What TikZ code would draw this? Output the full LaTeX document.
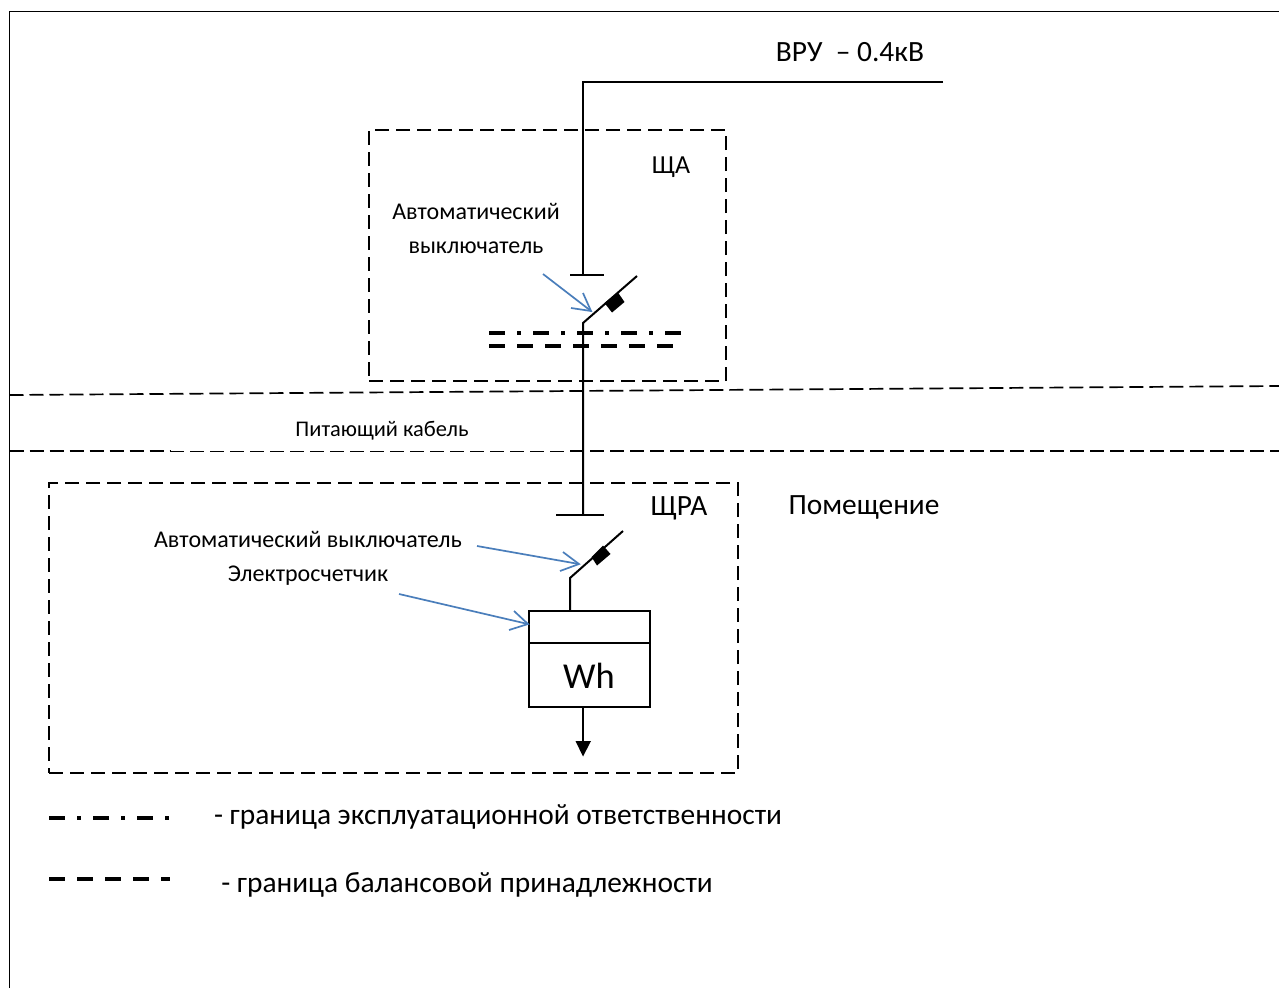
\documentclass[tikz,border=0pt]{standalone}
\usepackage{fontspec}
\setmainfont{Carlito}
\definecolor{bluearrow}{HTML}{4A7EBB}
\tikzset{
  wire/.style={draw=black,line width=2pt,line join=miter},
  frameline/.style={draw=black,line width=1.2pt},
  boxdash/.style={draw=black,line width=1.7pt,dash pattern=on 14pt off 7pt,outer sep=0pt},
  zonedash/.style={draw=black,line width=1.7pt,dash pattern=on 14pt off 6pt},
  thindash/.style={draw=black,line width=0.9pt,dash pattern=on 14pt off 6pt},
  bdash/.style={draw=black,line width=4pt,dash pattern=on 16pt off 12pt},
  bdashdot/.style={draw=black,line width=4pt,dash pattern=on 16pt off 12pt on 4pt off 12pt},
  pointer/.style={draw=bluearrow,line width=1.7pt},
  lbl/.style={inner sep=0pt,outer sep=0pt,text=black},
  small/.style={lbl,font=\fontsize{24}{28}\selectfont},
  tiny/.style={lbl,font=\fontsize{22.4}{26}\selectfont},
  big/.style={lbl,font=\fontsize{29.4}{34}\selectfont},
}
\begin{document}
\begin{tikzpicture}[x=1pt,y=-1pt]
\useasboundingbox (0,0) rectangle (1279,988);
\fill[white] (0,0) rectangle (1279,988);
% outer frame
\coordinate (fa) at (9.5,988);
\coordinate (fb) at (9.5,11.5);
\coordinate (fc) at (1279,11.5);
\draw[frameline] (fa) -- (fb) -- (fc);
% zones
\coordinate (z1a) at (9.5,395);
\coordinate (z1b) at (1279,386);
\draw[zonedash] (z1a) -- (z1b);
\coordinate (z2a) at (9.5,451);
\coordinate (z2b) at (170,451);
\coordinate (z2c) at (570,451);
\coordinate (z2d) at (1279,451);
\draw[zonedash] (z2a) -- (z2b);
\draw[thindash] (z2b) -- (z2c);
\draw[zonedash] (z2c) -- (z2d);
% dashed boxes
\node[boxdash,minimum width=357pt,minimum height=251pt,inner sep=0pt,anchor=north west] (sha) at (369,130) {};
\node[boxdash,minimum width=689pt,minimum height=290pt,inner sep=0pt,anchor=north west] (shra) at (49,483) {};
% upper feeder and switch
\coordinate (busend) at (943,82);
\coordinate (buscorner) at (583,82);
\coordinate (t1) at (583,275);
\coordinate (t1l) at (570,275);
\coordinate (t1r) at (604,275);
\coordinate (s1top) at (637,276);
\coordinate (s1bot) at (583,323);
\coordinate (t2) at (583,515);
\coordinate (t2l) at (556,515);
\coordinate (t2r) at (604,515);
\draw[wire] (busend) -- (buscorner) -- (t1);
\draw[wire] (t1l) -- (t1r);
\draw[wire] (s1top) -- (s1bot) -- (t2);
\draw[wire] (t2l) -- (t2r);
\fill[black] (604.5,303) -- (618,292.5) -- (624.5,302) -- (612,312.5) -- cycle;
% boundary marks
\coordinate (bd1a) at (489,333);
\coordinate (bd1b) at (681,333);
\coordinate (bd2a) at (489,346);
\coordinate (bd2b) at (673,346);
\draw[bdashdot] (bd1a) -- (bd1b);
\draw[bdash] (bd2a) -- (bd2b);
% lower switch and meter
\node[draw=black,line width=2pt,outer sep=0pt,minimum width=121pt,minimum height=96pt,inner sep=0pt,anchor=north west] (meter) at (529,611) {};
\coordinate (mla) at (529,643);
\coordinate (mlb) at (650,643);
\draw[wire] (mla) -- (mlb);
\node[lbl,font=\fontsize{36.5}{40}\selectfont] (wh) at (589,676) {Wh};
\coordinate (s2top) at (623,531);
\coordinate (s2bot) at (570,578);
\coordinate (s2m) at (570,611);
\draw[wire] (s2top) -- (s2bot) -- (s2m);
\fill[black] (591.5,557) -- (603,545.5) -- (610.5,554) -- (597,565.5) -- cycle;
% outgoing arrow
\coordinate (oa) at (583,707);
\coordinate (ob) at (583,742);
\draw[wire] (oa) -- (ob);
\fill[black] (575.5,741) -- (591,741) -- (583,756.5) -- cycle;
% blue pointers
\coordinate (p1a) at (543,274);
\coordinate (p1b) at (591,311);
\draw[pointer] (p1a) -- (p1b);
\draw[pointer] (583,293) -- (p1b) -- (571,308);
\coordinate (p2a) at (477,546);
\coordinate (p2b) at (579,564);
\draw[pointer] (p2a) -- (p2b);
\draw[pointer] (563,552) -- (p2b) -- (560,571);
\coordinate (p3a) at (399,594);
\coordinate (p3b) at (528,624);
\draw[pointer] (p3a) -- (p3b);
\draw[pointer] (514,611) -- (p3b) -- (509,630);
% labels
\node[big] (vru) at (850,52.5) {ВРУ~ – 0.4кВ};
\node[lbl,font=\fontsize{26}{30}\selectfont] (shal) at (671,167) {ЩА};
\node[small] (a1) at (476,211) {Автоматический};
\node[small] (a2) at (476,248) {выключатель};
\node[tiny] (cable) at (382,431) {Питающий кабель};
\node[big] (shral) at (679,508) {ЩРА};
\node[big] (room) at (864,507) {Помещение};
\node[small] (a3) at (308,539) {Автоматический выключатель};
\node[small] (a4) at (308,576) {Электросчетчик};
% legend
\coordinate (l1a) at (49,818);
\coordinate (l1b) at (170,818);
\coordinate (l2a) at (49,879);
\coordinate (l2b) at (170,879);
\draw[bdashdot] (l1a) -- (l1b);
\draw[bdash] (l2a) -- (l2b);
\node[big] (lt1) at (498,817) {- граница эксплуатационной ответственности};
\node[big] (lt2) at (467,885) {- граница балансовой принадлежности};
\end{tikzpicture}
\end{document}
